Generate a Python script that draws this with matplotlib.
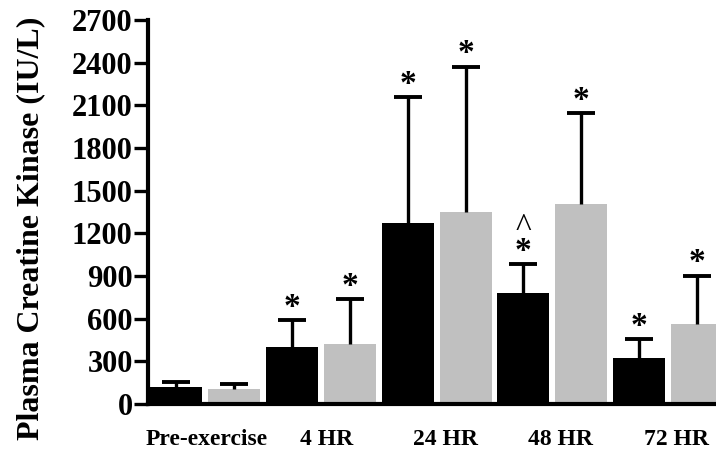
import numpy as np
import matplotlib.pyplot as plt

plt.rcParams['font.family'] = 'Liberation Serif'
plt.rcParams['font.weight'] = 'bold'

groups = ['Pre-exercise', '4 HR', '24 HR', '48 HR', '72 HR']
black_means = [117, 403, 1270, 783, 321]
black_tops = [157, 591, 2156, 984, 457]
gray_means = [103, 422, 1348, 1406, 560]
gray_tops = [141, 736, 2372, 2044, 902]
black_star = [False, True, True, True, True]
gray_star = [False, True, True, True, True]
black_caret = [False, False, False, True, False]

x_black = np.arange(len(groups)) * 2
x_gray = x_black + 1

fig = plt.figure(figsize=(7.16, 4.51), dpi=100)
ax = fig.add_axes([148 / 716, 1 - 404 / 451, 1 - 148 / 716, (404 - 20) / 451])

ax.bar(x_black, black_means, width=0.9, color='black', zorder=2)
ax.bar(x_gray, gray_means, width=0.9, color='#c0c0c0', zorder=2)

# upper-only error bars with a single cap
for xs, means, tops in [(x_black, black_means, black_tops), (x_gray, gray_means, gray_tops)]:
    ax.vlines(xs, means, tops, color='black', linewidth=2.4, zorder=3)
    ax.plot(xs, tops, linestyle='none', marker='_', markersize=20,
            markeredgewidth=2.8, color='black', zorder=3)

for xs, tops, stars in [(x_black, black_tops, black_star), (x_gray, gray_tops, gray_star)]:
    for xi, t, s in zip(xs, tops, stars):
        if s:
            ax.annotate('*', xy=(xi, t), xytext=(0, -2), textcoords='offset points',
                        ha='center', va='bottom', fontsize=24)
for xi, t, c in zip(x_black, black_tops, black_caret):
    if c:
        ax.annotate('^', xy=(xi, t), xytext=(0, 15), textcoords='offset points',
                    ha='center', va='bottom', fontsize=24, fontweight='normal')

ax.set_xlim(-0.49, 9.33)
ax.set_ylim(0, 2700)
ax.set_yticks(np.arange(0, 2701, 300))
ax.tick_params(axis='y', length=10, width=2.4, labelsize=22, pad=1)
ax.tick_params(axis='x', length=0, labelsize=17, pad=18)
ax.set_xticks([0.53, 2.6, 4.65, 6.65, 8.65])
ax.set_xticklabels(groups)
ax.spines['top'].set_visible(False)
ax.spines['right'].set_visible(False)
ax.spines['left'].set_linewidth(3)
ax.spines['bottom'].set_linewidth(3)
ax.set_ylabel('Plasma Creatine Kinase (IU/L)', fontsize=23, fontweight='bold', va='center')
ax.yaxis.set_label_coords(-0.206, 0.458)

fig.savefig('out.png', dpi=100)
